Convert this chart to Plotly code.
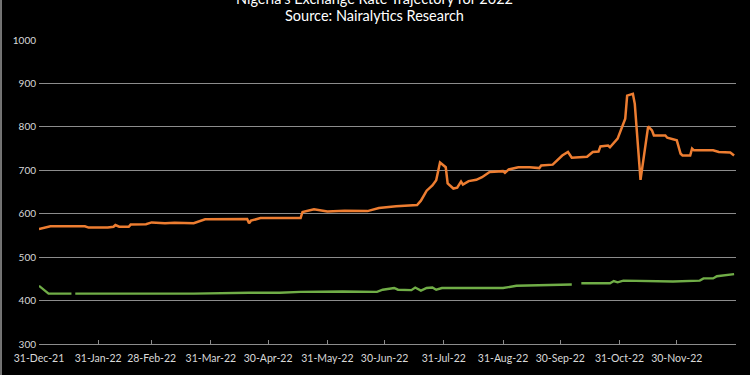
import plotly.graph_objects as go

# Parallel market rate (orange)
parallel_dates = [
    "2021-12-31", "2022-01-06", "2022-01-24", "2022-01-26", "2022-02-05", "2022-02-08",
    "2022-02-09", "2022-02-11", "2022-02-16", "2022-02-17", "2022-02-25", "2022-02-28",
    "2022-03-07", "2022-03-12", "2022-03-22", "2022-03-28", "2022-04-19", "2022-04-20",
    "2022-04-21", "2022-04-26", "2022-05-17", "2022-05-18", "2022-05-24", "2022-05-31",
    "2022-06-09", "2022-06-21", "2022-06-27", "2022-07-06", "2022-07-17", "2022-07-19",
    "2022-07-22", "2022-07-25", "2022-07-27", "2022-07-29", "2022-08-01", "2022-08-02",
    "2022-08-05", "2022-08-07", "2022-08-09", "2022-08-10", "2022-08-13", "2022-08-17",
    "2022-08-20", "2022-08-24", "2022-08-31", "2022-09-01", "2022-09-03", "2022-09-08",
    "2022-09-14", "2022-09-19", "2022-09-20", "2022-09-26", "2022-10-01", "2022-10-04",
    "2022-10-06", "2022-10-14", "2022-10-17", "2022-10-20", "2022-10-21", "2022-10-25",
    "2022-10-26", "2022-10-30", "2022-11-03", "2022-11-04", "2022-11-07", "2022-11-08",
    "2022-11-11", "2022-11-15", "2022-11-17", "2022-11-18", "2022-11-24", "2022-11-25",
    "2022-11-30", "2022-12-02", "2022-12-03", "2022-12-07", "2022-12-08", "2022-12-09",
    "2022-12-19", "2022-12-22", "2022-12-28", "2022-12-30",
]
parallel_rates = [
    565, 571, 571, 568, 568, 570,
    574, 570, 570, 575, 576, 580,
    578, 579, 578, 587, 588, 578,
    584, 590, 590, 604, 610, 605,
    607, 606, 613, 617, 620, 630,
    653, 665, 677, 718, 707, 670,
    658, 660, 674, 667, 675, 678,
    684, 696, 698, 694, 702, 707,
    707, 705, 711, 713, 734, 742,
    729, 731, 742, 743, 755, 757,
    753, 773, 819, 872, 876, 853,
    678, 801, 792, 780, 780, 775,
    769, 738, 734, 734, 750, 746,
    746, 742, 741, 734,
]

# Official I&E window rate (green); None marks a gap in the series
official_dates = [
    "2021-12-31", "2022-01-05", "2022-01-17", "2022-01-18", "2022-01-19", "2022-01-30",
    "2022-03-22", "2022-04-20", "2022-05-06", "2022-05-17", "2022-06-08", "2022-06-26",
    "2022-06-29", "2022-07-05", "2022-07-07", "2022-07-14", "2022-07-16", "2022-07-19",
    "2022-07-22", "2022-07-25", "2022-07-27", "2022-07-30", "2022-08-31", "2022-09-07",
    "2022-10-06", "2022-10-08", "2022-10-11", "2022-10-26", "2022-10-28", "2022-10-30",
    "2022-11-02", "2022-11-28", "2022-12-12", "2022-12-14", "2022-12-19", "2022-12-21",
    "2022-12-30",
]
official_rates = [
    434, 416, 416, None, 416, 416,
    416, 418, 418, 420, 421, 420,
    425, 429, 425, 424, 430, 423,
    429, 430, 425, 429, 429, 434,
    437, None, 440, 440, 445, 442,
    446, 444, 446, 451, 451, 456,
    461,
]

tick_dates = [
    "2021-12-31", "2022-01-31", "2022-02-28", "2022-03-31", "2022-04-30", "2022-05-31",
    "2022-06-30", "2022-07-31", "2022-08-31", "2022-09-30", "2022-10-31", "2022-11-30",
    "2022-12-31",
]
tick_labels = [
    "31-Dec-21", "31-Jan-22", "28-Feb-22", "31-Mar-22", "30-Apr-22", "31-May-22",
    "30-Jun-22", "31-Jul-22", "31-Aug-22", "30-Sep-22", "31-Oct-22", "30-Nov-22",
    "",
]

title_line1 = "Nigeria's Exchange Rate Trajectory for 2022"
title_line2 = "Source: Nairalytics Research"

fig = go.Figure()
fig.add_trace(go.Scatter(
    x=parallel_dates, y=parallel_rates, mode="lines",
    line=dict(color="#ED7D31", width=2.5), name="Parallel",
))
fig.add_trace(go.Scatter(
    x=official_dates, y=official_rates, mode="lines", connectgaps=False,
    line=dict(color="#70AD47", width=2.4), name="Official",
))

font_family = "Lato, 'Open Sans', sans-serif"

fig.update_layout(
    width=750, height=375,
    paper_bgcolor="black", plot_bgcolor="black",
    margin=dict(l=39, r=14, t=40, b=31, autoexpand=False),
    showlegend=False,
    font=dict(family=font_family, color="#d9d9d9", size=10),
    xaxis=dict(
        type="date", range=["2021-12-31", "2022-12-31"], automargin=False,
        tickmode="array", tickvals=tick_dates, ticktext=tick_labels,
        showgrid=False, showline=True, linecolor="#8c8c8c", linewidth=1.2,
        ticks="inside", ticklen=4, tickcolor="#8c8c8c", tickwidth=1.2,
        tickfont=dict(size=10.5, color="#d9d9d9"), zeroline=False,
        ticklabelstandoff=4,
    ),
    yaxis=dict(
        range=[300, 1000], dtick=100, tick0=300, automargin=False,
        showgrid=True, gridcolor="#8c8c8c", gridwidth=1.2,
        showline=False, zeroline=False, ticks="",
        tickfont=dict(size=10, color="#d9d9d9"), ticklabelstandoff=2,
    ),
    annotations=[
        dict(text=title_line1, xref="paper", yref="paper", x=0.482, y=1.138,
             showarrow=False, xanchor="center", yanchor="middle",
             font=dict(size=14.5, color="white", family=font_family)),
        dict(text=title_line2, xref="paper", yref="paper", x=0.482, y=1.079,
             showarrow=False, xanchor="center", yanchor="middle",
             font=dict(size=14.5, color="white", family=font_family)),
    ],
    shapes=[
        dict(type="line", xref="paper", yref="paper", x0=-0.0545, x1=-0.0545,
             y0=-0.11, y1=1.14, line=dict(color="#9a9a9a", width=1.5)),
        dict(type="line", xref="paper", yref="paper", x0=1.0395, x1=1.0395,
             y0=-0.11, y1=1.14, line=dict(color="#9a9a9a", width=1.5)),
    ],
)

fig.write_html(
    "out.html",
    config={"displayModeBar": False},
    post_script="document.body.style.margin='0';document.body.style.background='black';",
)
